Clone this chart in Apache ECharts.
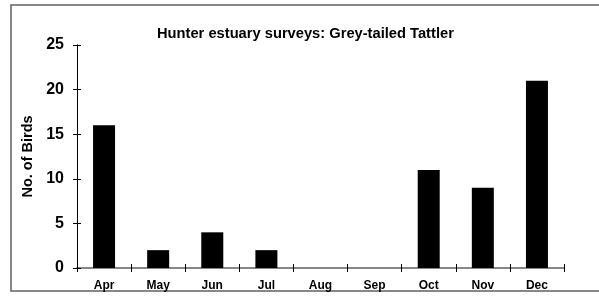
<!DOCTYPE html>
<html>
<head>
<meta charset="utf-8">
<script src="https://cdn.jsdelivr.net/npm/echarts@6/dist/echarts.min.js"></script>
<style>
  html, body { margin: 0; padding: 0; background: #fff; }
  #chart { width: 599px; height: 302px; }
</style>
</head>
<body>
<div id="chart"></div>
<script>
const months = ['Apr', 'May', 'Jun', 'Jul', 'Aug', 'Sep', 'Oct', 'Nov', 'Dec'];
const birdCounts = [16, 2, 4, 2, 0, 0, 11, 9, 21];
const yTicks = [0, 5, 10, 15, 20, 25];

const font = 'Liberation Sans, Arial, sans-serif';
const chart = echarts.init(document.getElementById('chart'));

const baseX = {
  type: 'category',
  data: months,
  position: 'bottom',
  axisLine: { lineStyle: { color: '#808080', width: 1.5 } },
  splitLine: { show: false }
};
const baseY = {
  type: 'value',
  min: yTicks[0],
  max: yTicks[yTicks.length - 1],
  interval: 5,
  position: 'left',
  splitLine: { show: false },
  axisLine: { show: true, lineStyle: { color: '#000', width: 1 } }
};

chart.setOption({
  backgroundColor: '#fff',
  animation: false,
  title: {
    text: 'Hunter estuary surveys: Grey-tailed Tattler',
    left: 152,
    top: 21,
    textStyle: { fontFamily: font, fontSize: 14.7, fontWeight: 'bold', color: '#000' }
  },
  grid: { left: 77, right: 35, top: 45, bottom: 34 },
  graphic: [{
    type: 'rect',
    shape: { x: 11, y: 5, width: 620, height: 286 },
    style: { fill: 'none', stroke: '#606060', lineWidth: 1.5 },
    silent: true
  }],
  xAxis: [
    Object.assign({}, baseX, {
      axisTick: { show: true, length: 4, lineStyle: { color: '#000' } },
      axisLabel: { margin: 12, fontFamily: font, fontSize: 12, fontWeight: 'bold', color: '#000' }
    }),
    Object.assign({}, baseX, {
      axisTick: { show: true, inside: true, length: 4, lineStyle: { color: '#000' } },
      axisLabel: { show: false }
    })
  ],
  yAxis: [
    Object.assign({}, baseY, {
      name: 'No. of Birds',
      nameLocation: 'middle',
      nameGap: 39,
      nameTextStyle: { fontFamily: font, fontSize: 14.5, fontWeight: 'bold', color: '#000' },
      axisTick: { show: true, length: 4, lineStyle: { color: '#000' } },
      axisLabel: { margin: 13, fontFamily: font, fontSize: 16, fontWeight: 'bold', color: '#000' }
    }),
    Object.assign({}, baseY, {
      axisTick: { show: true, inside: true, length: 4, lineStyle: { color: '#000' } },
      axisLabel: { show: false }
    })
  ],
  series: [{
    type: 'bar',
    data: birdCounts,
    barWidth: 22,
    itemStyle: { color: '#000' },
    z: 1
  }]
});
</script>
</body>
</html>
